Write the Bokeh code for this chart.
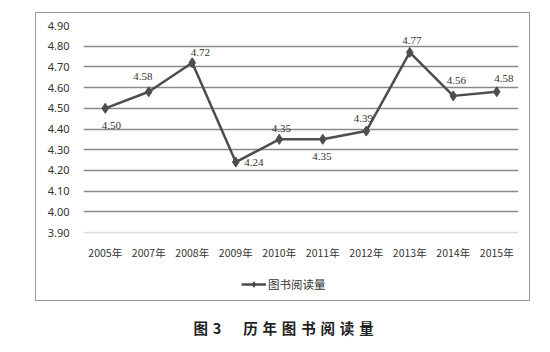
from bokeh.plotting import figure
from bokeh.models import (ColumnDataSource, LabelSet, Label, Legend, LegendItem,
                          FixedTicker, NumeralTickFormatter, Range1d)
from bokeh.layouts import column
from bokeh.embed import file_html
from bokeh.resources import INLINE

years = ["2005年", "2007年", "2008年", "2009年", "2010年", "2011年", "2012年", "2013年", "2014年", "2015年"]
values = [4.50, 4.58, 4.72, 4.24, 4.35, 4.35, 4.39, 4.77, 4.56, 4.58]
value_labels = ["4.50", "4.58", "4.72", "4.24", "4.35", "4.35", "4.39", "4.77", "4.56", "4.58"]
y_ticks = [3.90, 4.00, 4.10, 4.20, 4.30, 4.40, 4.50, 4.60, 4.70, 4.80, 4.90]
series_name = "图书阅读量"
caption = "图\u20043\u3000\u2002历\u2004年\u2004图\u2004书\u2004阅\u2004读\u2004量"

# label placement (style): pixel offsets per point
label_dx = [6, -6, 8, 18, 2, -1, -3, 2, 3, 7]
label_dy = [-17, 15, 10, 0, 11, -17, 13, 12, 15, 13]

NUM_FONT = "Noto Sans"
CJK_FONT = "Noto Sans CJK SC"
LINE_COLOR = "#4d4d4d"

p = figure(width=493, height=257, x_range=years, y_range=Range1d(3.90, 4.90),
           output_backend="svg", toolbar_location=None,
           min_border_left=47, min_border_right=11, min_border_top=12, min_border_bottom=38,
           margin=0)
p.outline_line_color = None
p.background_fill_color = "white"
p.border_fill_color = "white"

# axes
p.yaxis.ticker = FixedTicker(ticks=y_ticks)
p.yaxis.formatter = NumeralTickFormatter(format="0.00")
p.yaxis.axis_line_color = None
p.yaxis.major_tick_line_color = None
p.yaxis.minor_tick_line_color = None
p.yaxis.major_tick_out = 0
p.yaxis.major_label_standoff = 14
p.yaxis.major_label_text_font = NUM_FONT
p.yaxis.major_label_text_font_size = "11px"
p.yaxis.major_label_text_color = "#333333"

p.xaxis.axis_line_color = "#dddddd"
p.xaxis.axis_line_width = 1.5
p.xaxis.major_tick_line_color = None
p.xaxis.minor_tick_line_color = None
p.xaxis.major_label_standoff = 6
p.xaxis.major_label_text_font = CJK_FONT
p.xaxis.major_label_text_font_size = "10.5px"
p.xaxis.major_label_text_color = "#333333"

p.xgrid.grid_line_color = None
p.ygrid.ticker = FixedTicker(ticks=y_ticks[1:])
p.ygrid.grid_line_color = "#8a8a8a"
p.ygrid.grid_line_width = 1.3

src = ColumnDataSource(dict(x=years, y=values, t=value_labels, dx=label_dx, dy=label_dy))

p.line("x", "y", source=src, line_color=LINE_COLOR, line_width=2.5)
p.scatter("x", "y", source=src, marker="diamond", size=10, fill_color=LINE_COLOR,
          line_color=LINE_COLOR)

labels = LabelSet(x="x", y="y", text="t", source=src, x_offset="dx", y_offset="dy",
                  text_align="center", text_baseline="middle", text_font=NUM_FONT,
                  text_font_size="11px", text_color="#333333")
p.add_layout(labels)

# legend strip (inside the bordered box, under the plot)
lg = figure(width=493, height=30, x_range=Range1d(0, 1), y_range=Range1d(0, 1),
            output_backend="svg", toolbar_location=None, min_border=0, margin=0)
lg.axis.visible = False
lg.grid.visible = False
lg.outline_line_color = None
offscreen = ColumnDataSource(dict(x=[-5, -4], y=[-5, -4]))
lr = lg.line("x", "y", source=offscreen, line_color=LINE_COLOR, line_width=2.5)
mr = lg.scatter("x", "y", source=offscreen, marker="diamond", size=8, fill_color=LINE_COLOR,
                line_color=LINE_COLOR)
legend = Legend(items=[LegendItem(label=series_name, renderers=[lr, mr], index=0)],
                location=(158, 8), orientation="horizontal",
                border_line_color=None, background_fill_alpha=0,
                label_text_font=CJK_FONT, label_text_font_size="11.5px",
                label_text_color="#333333", glyph_width=25, glyph_height=14,
                label_height=14, padding=0, margin=0, label_standoff=2)
lg.add_layout(legend)

box = column(p, lg, spacing=0, margin=(12, 0, 0, 35),
             styles={"border": "1px solid #9a9a9a"})

# caption underneath
c = figure(width=550, height=51, x_range=Range1d(0, 550), y_range=Range1d(0, 51),
           output_backend="svg", toolbar_location=None,
           min_border=0, margin=0)
c.axis.visible = False
c.grid.visible = False
c.outline_line_color = None
cap = Label(x=193, y=25, text=caption,
            text_font=CJK_FONT, text_font_size="14.5px", text_font_style="bold",
            text_color="#222222", text_baseline="middle")
c.add_layout(cap)

layout = column(box, c, spacing=0, margin=0)
open("out.html", "w").write(file_html(layout, INLINE))
